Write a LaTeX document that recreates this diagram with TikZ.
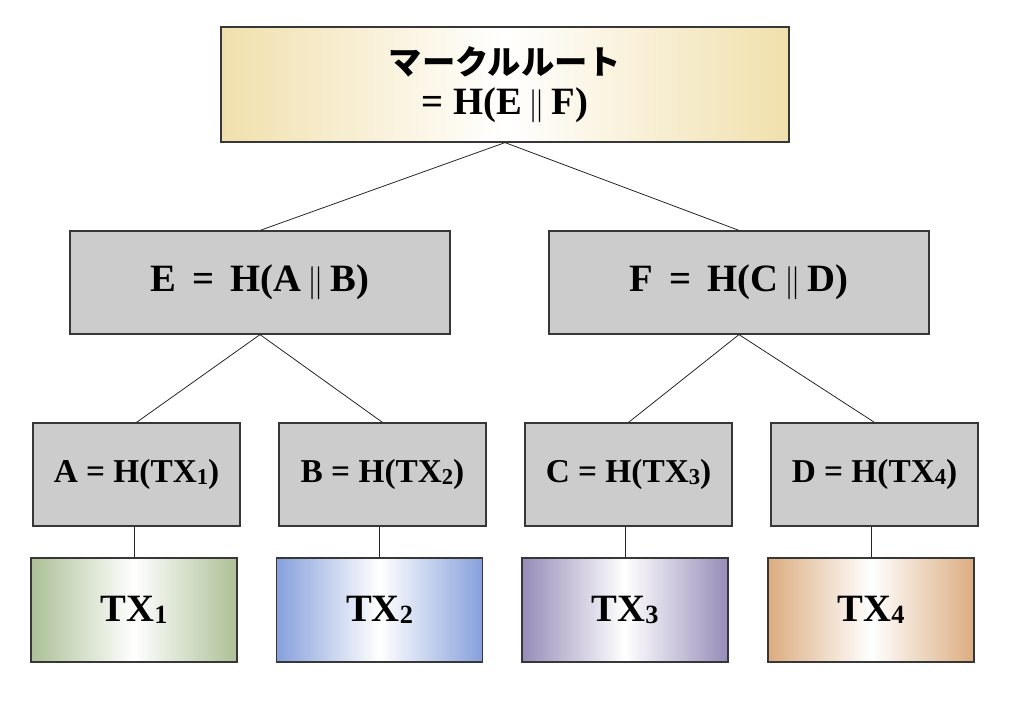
\documentclass[tikz,border=0pt]{standalone}
\usepackage{fontspec}
\usepackage{graphicx}
\setmainfont{Liberation Serif}
\newfontfamily\jpfont{Noto Sans CJK JP}
\usepackage{tikz}
\definecolor{Gr}{RGB}{204,204,204}
\definecolor{Ln}{RGB}{55,55,55}
\definecolor{R}{RGB}{241,224,172}
\definecolor{T1}{RGB}{172,192,150}
\definecolor{T2}{RGB}{134,160,220}
\definecolor{T3}{RGB}{150,140,184}
\definecolor{T4}{RGB}{220,172,128}
\newcommand{\txnum}[1]{\raisebox{-.12ex}{\scalebox{.68}{#1}}}
\newcommand{\concat}{\,$\|$\,}
\tikzset{
  box/.style={draw=Ln,line width=0.9pt,inner sep=0pt,align=center,font=\bfseries},
  hashbox/.style={box,fill=Gr},
  txbox/.style={box,minimum width=154.5pt,minimum height=78pt,font=\bfseries\fontsize{29}{32}\selectfont,
    left color=#1,right color=#1,middle color=white},
  link/.style={draw=black!85,line width=0.6pt}
}
\begin{document}
\begin{tikzpicture}[x=0.75pt,y=-0.75pt]
\useasboundingbox (0,0) rectangle (1024,703);
\node[box,minimum width=426pt,minimum height=86.25pt,left color=R,right color=R,middle color=white,
  font=\bfseries\fontsize{29}{30}\selectfont] (root) at (505,84.5)
  {{\jpfont\bfseries\fontsize{25}{30}\selectfont マークルルート}\\= H(E\concat F)};
\node[hashbox,minimum width=285pt,minimum height=77.25pt,font=\bfseries\fontsize{29}{32}\selectfont] (E) at (260,282.5) {E\, = \,H(A\concat B)};
\node[hashbox,minimum width=285pt,minimum height=77.25pt,font=\bfseries\fontsize{29}{32}\selectfont] (F) at (739,282.5) {F\, = \,H(C\concat D)};
\foreach \n/\x/\k in {A/136.5/1,B/382.5/2,C/628.5/3,D/874.5/4}{
  \node[hashbox,minimum width=155.25pt,minimum height=77.25pt,font=\bfseries\fontsize{25}{28}\selectfont] (\n) at (\x,474.5) {\n{} = H(TX\txnum{\k})};
}
\node[txbox=T1] (tx1) at (134,610) {TX\txnum{1}};
\node[txbox=T2] (tx2) at (379.5,610) {TX\txnum{2}};
\node[txbox=T3] (tx3) at (625,610) {TX\txnum{3}};
\node[txbox=T4] (tx4) at (871,610) {TX\txnum{4}};
\draw[link] (root.south)--(E.north);
\draw[link] (root.south)--(F.north);
\draw[link] (E.south)--(A.north);
\draw[link] (E.south)--(B.north);
\draw[link] (F.south)--(C.north);
\draw[link] (F.south)--(D.north);
\foreach \n/\t in {A/tx1,B/tx2,C/tx3,D/tx4}{
  \draw[link] (\t.north)--(\t.north |- \n.south);
}
\end{tikzpicture}
\end{document}
